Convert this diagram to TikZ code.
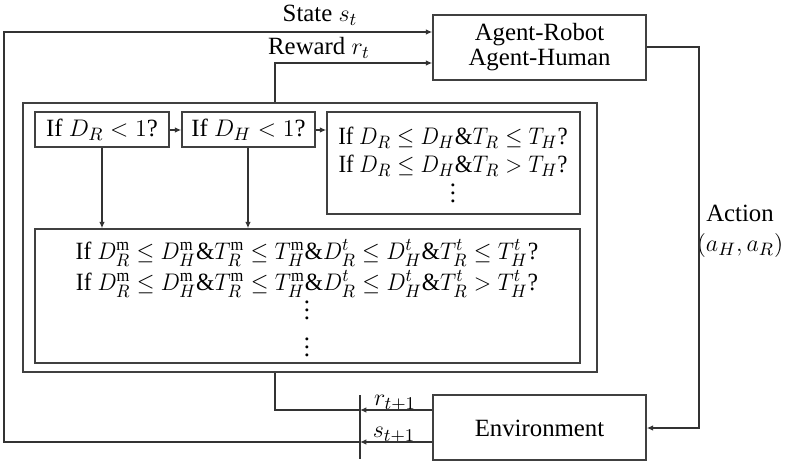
\documentclass[tikz,border=0pt]{standalone}
\usepackage{fontspec}
\setmainfont{Liberation Serif}
\usetikzlibrary{arrows.meta}
\begin{document}
\begin{tikzpicture}[x=0.5pt,y=-0.5pt,
  font=\fontsize{12.4}{14}\selectfont,
  line width=0.7pt, draw=black!80,
  box/.style={draw=black!75, line width=0.75pt, rectangle, inner sep=0pt},
  lbl/.style={inner sep=0pt, align=center},
  arr/.style={-{Latex[length=3.2pt,width=2.8pt]}}]
\useasboundingbox (0,0) rectangle (793,461);
% boxes
\node[box, minimum width=106.5pt, minimum height=32.5pt] (agent) at (539.5,47.5) {};
\node[box, minimum width=106.5pt, minimum height=32.5pt] (env) at (539.5,427.5) {};
\node[box, minimum width=287pt, minimum height=134.5pt] (outer) at (310,237.5) {};
\node[box, minimum width=67pt, minimum height=17.5pt] (b1) at (102,129.5) {};
\node[box, minimum width=66.5pt, minimum height=17.5pt] (b2) at (248.5,129.5) {};
\node[box, minimum width=126.5pt, minimum height=51pt] (b3) at (453.5,163) {};
\node[box, minimum width=272.5pt, minimum height=67pt] (big) at (307.5,296) {};
% texts
\node[lbl] (agentt) at (539.5,47.5) {Agent-Robot\\[-1.5pt]Agent-Human};
\node[lbl] (envt) at (539.5,428) {Environment};
\node[lbl] (b1t) at (102,130) {If $D_R<1$?};
\node[lbl] (b2t) at (248.5,130) {If $D_H<1$?};
\node[lbl, anchor=north] (b3a) at (453,126) {\scalebox{0.92}[1]{If $D_R\le D_H\&T_R\le T_H$?}\\[0pt]\scalebox{0.92}[1]{If $D_R\le D_H\&T_R> T_H$?}\\[-3pt]$\vdots$};
\node[lbl, anchor=north] (bga) at (307,239) {\scalebox{0.95}[1]{If $D_R^{\mathrm{m}}\le D_H^{\mathrm{m}}\&T_R^{\mathrm{m}}\le T_H^{\mathrm{m}}\&D_R^{t}\le D_H^{t}\&T_R^{t}\le T_H^{t}$?}\\[1.5pt]\scalebox{0.95}[1]{If $D_R^{\mathrm{m}}\le D_H^{\mathrm{m}}\&T_R^{\mathrm{m}}\le T_H^{\mathrm{m}}\&D_R^{t}\le D_H^{t}\&T_R^{t}> T_H^{t}$?}\\[-5pt]$\vdots$\\[2pt]$\vdots$};
\node[lbl] (state) at (320,15) {State $s_t$};
\node[lbl] (reward) at (319,48) {Reward $r_t$};
\node[lbl] (action) at (740,231) {Action\\[1pt]$(a_H,a_R)$};
\node[lbl] (rt1) at (395,403) {$r_{t+1}$};
\node[lbl] (st1) at (394,435) {$s_{t+1}$};
% coordinates
\coordinate (sepT) at (360,395);
\coordinate (sepB) at (360,459);
\coordinate (rj) at (360,410);
\coordinate (sj) at (360,442);
\coordinate (ll) at (4,442);
\coordinate (lt) at (4,32);
\coordinate (rt) at (275,63);
\coordinate (rb) at (275,410);
\coordinate (ar) at (699,47);
\coordinate (arb) at (699,428);
% connectors
\draw (sepT) -- (sepB);
\draw[arr] (env.west |- rj) -- (rj);
\draw[arr] (env.west |- sj) -- (sj);
\draw (rj) -- (rb) -- (outer.south -| rb);
\draw[arr] (sj) -- (ll) -- (lt) -- (agent.west |- lt);
\draw[arr] (outer.north -| rt) -- (rt) -- (agent.west |- rt);
\draw[arr] (agent.east |- ar) -- (ar) -- (arb) -- (env.east |- arb);
\draw[arr] (b1.east |- 0,130) -- (b2.west |- 0,130);
\draw[arr] (b2.east |- 0,130) -- (b3.west |- 0,130);
\draw[arr] (b1.south -| 102,0) -- (big.north -| 102,0);
\draw[arr] (b2.south -| 248,0) -- (big.north -| 248,0);
\end{tikzpicture}
\end{document}
